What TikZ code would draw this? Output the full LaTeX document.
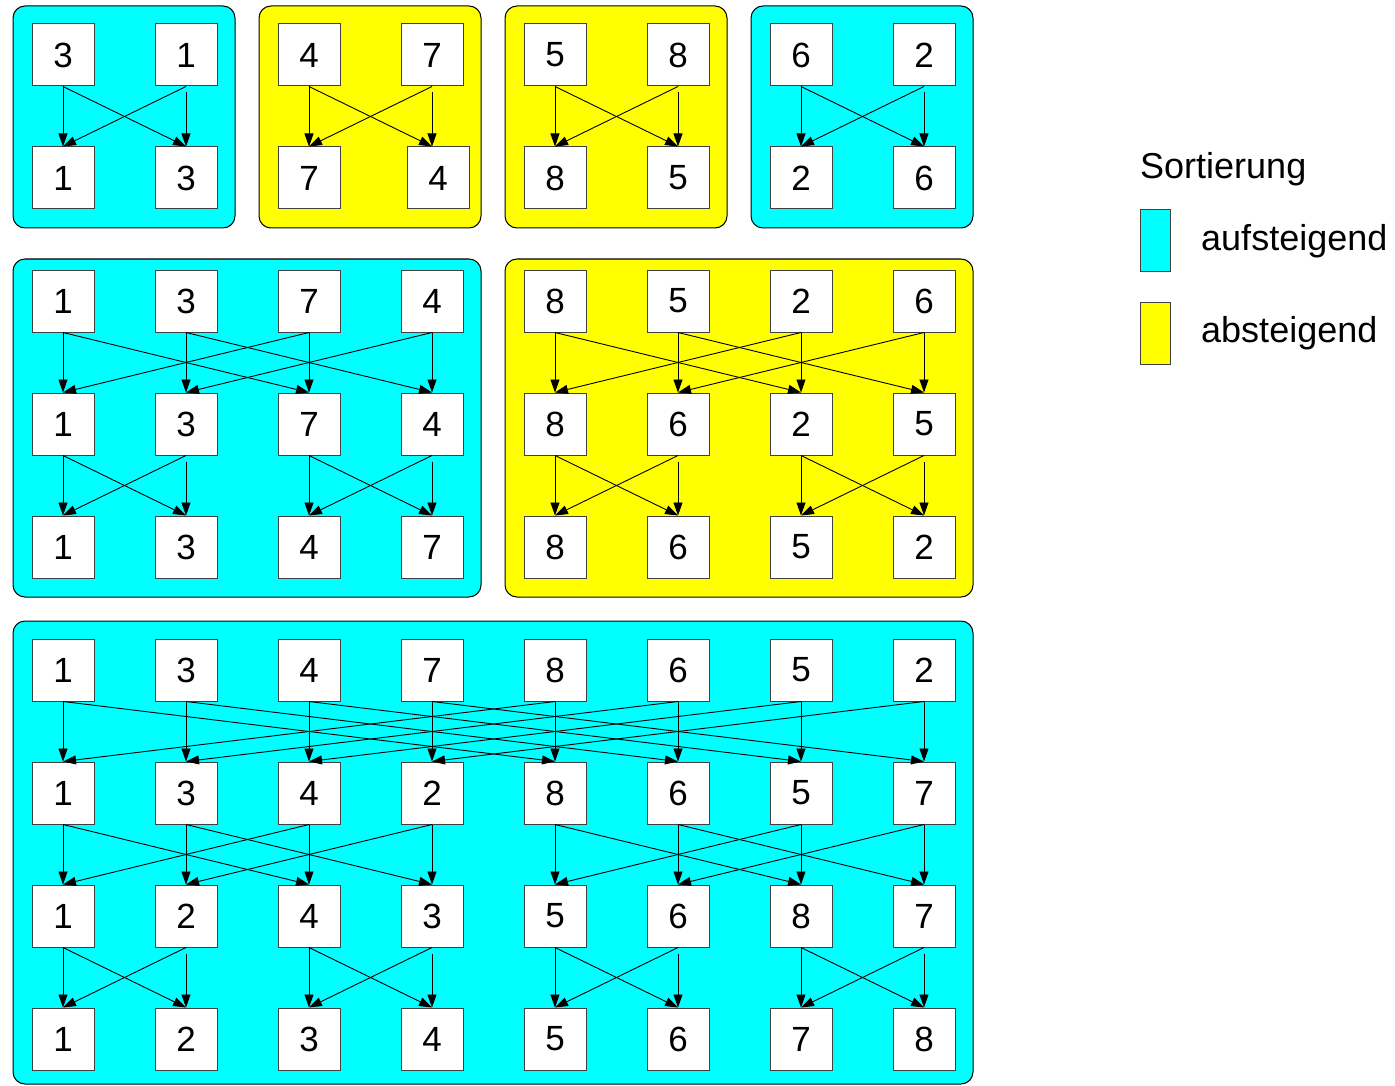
\documentclass[tikz,border=0pt]{standalone}
\usepackage{fontspec}
\setmainfont{Liberation Sans}
\usetikzlibrary{arrows.meta}
\definecolor{asc}{HTML}{00FFFF}
\definecolor{desc}{HTML}{FFFF00}
\definecolor{boxline}{HTML}{404040}
\begin{document}
\begin{tikzpicture}[x=1pt,y=-1pt,
  panel/.style={draw=black, line width=1pt, rounded corners=12pt},
  num/.style={draw=boxline, fill=white, line width=1pt, minimum size=62pt, inner sep=0pt, font=\fontsize{35}{40}\selectfont},
  arr/.style={-{Triangle[length=13pt,width=9pt]}, line width=0.9pt, black},
  legtext/.style={font=\fontsize{36}{42}\selectfont, anchor=base west, inner sep=0pt},
  swatch/.style={draw=boxline, line width=1pt, minimum width=30pt, minimum height=62pt, inner sep=0pt, anchor=north west}]
\useasboundingbox (0,0) rectangle (1395,1086);
% panels
\draw[panel, fill=asc]  (13,6) rectangle (235,228);
\draw[panel, fill=desc] (259,6) rectangle (481,228);
\draw[panel, fill=desc] (505,6) rectangle (727,228);
\draw[panel, fill=asc]  (751,6) rectangle (973,228);
\draw[panel, fill=asc]  (13,259) rectangle (481,597);
\draw[panel, fill=desc] (505,259) rectangle (973,597);
\draw[panel, fill=asc]  (13,621) rectangle (973,1084);
% top section
\foreach \v [count=\c] in {3,1,4,7,5,8,6,2}
  \node[num] (t1-\c) at ({63+123*(\c-1)},55) {\v};
\foreach \v/\dx [count=\c] in {1/0,3/0,7/0,4/6,8/0,5/0,2/0,6/0}
  \node[num] (t2-\c) at ({63+123*(\c-1)+\dx},178) {\v};
% middle section
\foreach \v [count=\c] in {1,3,7,4,8,5,2,6}
  \node[num] (m1-\c) at ({63+123*(\c-1)},301) {\v};
\foreach \v [count=\c] in {1,3,7,4,8,6,2,5}
  \node[num] (m2-\c) at ({63+123*(\c-1)},424) {\v};
\foreach \v [count=\c] in {1,3,4,7,8,6,5,2}
  \node[num] (m3-\c) at ({63+123*(\c-1)},547) {\v};
% bottom section
\foreach \v [count=\c] in {1,3,4,7,8,6,5,2}
  \node[num] (b1-\c) at ({63+123*(\c-1)},670) {\v};
\foreach \v [count=\c] in {1,3,4,2,8,6,5,7}
  \node[num] (b2-\c) at ({63+123*(\c-1)},793) {\v};
\foreach \v [count=\c] in {1,2,4,3,5,6,8,7}
  \node[num] (b3-\c) at ({63+123*(\c-1)},916) {\v};
\foreach \v [count=\c] in {1,2,3,4,5,6,7,8}
  \node[num] (b4-\c) at ({63+123*(\c-1)},1039) {\v};
% connectors
\foreach \sec/\r/\d in {t/1/1, m/1/2, m/2/1, b/1/4, b/2/2, b/3/1} {
  \pgfmathtruncatemacro{\rr}{\r+1}
  \foreach \i in {1,...,8} {
    \pgfmathtruncatemacro{\blk}{mod(floor((\i-1)/\d),2)}
    \pgfmathtruncatemacro{\p}{\blk==0 ? \i+\d : \i-\d}
    \pgfmathtruncatemacro{\gap}{(\d==1)*(\blk==1)*6}
    \draw[arr, shorten <=\gap pt] (\sec\r-\i.south) -- (\sec\rr-\i.north -| \sec\r-\i);
    \draw[arr] (\sec\r-\i.south) -- (\sec\rr-\p.north -| \sec\r-\p);
  }
}
% legend
\node[legtext] (legtitle) at (1140,179) {Sortierung};
\node[swatch, fill=asc] (sw1) at (1140,209) {};
\node[swatch, fill=desc] (sw2) at (1140,302) {};
\node[legtext] (legasc) at (1201,251) {aufsteigend};
\node[legtext] (legdesc) at (1201,342) {absteigend};
\end{tikzpicture}
\end{document}
